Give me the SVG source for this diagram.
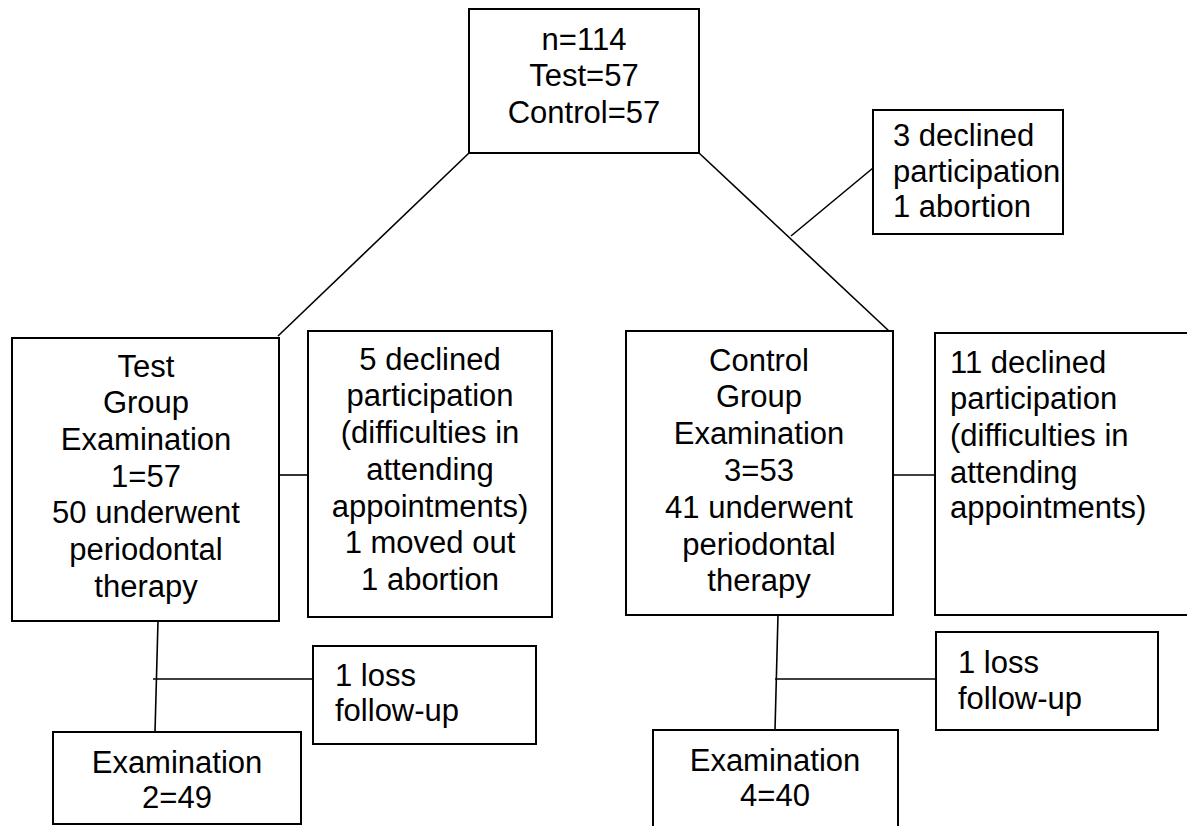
<svg xmlns="http://www.w3.org/2000/svg" width="1187" height="826" viewBox="0 0 1187 826">
<style>
.box{fill:#fff;stroke:#000;stroke-width:2}
.ln{fill:none;stroke:#000;stroke-width:1.6}
text{font-family:"Liberation Sans",Arial,sans-serif;font-size:31px;fill:#000}
.c{text-anchor:middle}
</style>
<rect width="1187" height="826" fill="#fff"/>
<g id="connectors">
<line class="ln" x1="469" y1="153" x2="278" y2="336"/>
<line class="ln" x1="699" y1="153" x2="889" y2="331"/>
<line class="ln" x1="873" y1="168" x2="791" y2="236"/>
<line class="ln" x1="279" y1="475" x2="308" y2="475"/>
<line class="ln" x1="891" y1="475" x2="935" y2="475"/>
<line class="ln" x1="158" y1="621" x2="155" y2="732"/>
<line class="ln" x1="153" y1="679" x2="313" y2="679"/>
<line class="ln" x1="778" y1="615" x2="775" y2="730"/>
<line class="ln" x1="775" y1="679" x2="936" y2="679"/>
</g>
<g id="n_total">
<rect class="box" x="469" y="9" width="230" height="144"/>
<text class="c" x="584" y="50">n=114</text>
<text class="c" x="584" y="86">Test=57</text>
<text class="c" x="584" y="123">Control=57</text>
</g>
<g id="n_excl_top">
<rect class="box" x="873" y="110" width="190" height="124"/>
<text x="893" y="146">3 declined</text>
<text x="893" y="182">participation</text>
<text x="893" y="217">1 abortion</text>
</g>
<g id="n_test">
<rect class="box" x="12" y="338" width="267" height="283"/>
<text class="c" x="146" y="377">Test</text>
<text class="c" x="146" y="413">Group</text>
<text class="c" x="146" y="450">Examination</text>
<text class="c" x="146" y="487">1=57</text>
<text class="c" x="146" y="523">50 underwent</text>
<text class="c" x="146" y="560">periodontal</text>
<text class="c" x="146" y="597">therapy</text>
</g>
<g id="n_test_excl">
<rect class="box" x="308" y="331" width="244" height="286"/>
<text class="c" x="430" y="370">5 declined</text>
<text class="c" x="430" y="406">participation</text>
<text class="c" x="430" y="443">(difficulties in</text>
<text class="c" x="430" y="480">attending</text>
<text class="c" x="430" y="517">appointments)</text>
<text class="c" x="430" y="553">1 moved out</text>
<text class="c" x="430" y="590">1 abortion</text>
</g>
<g id="n_control">
<rect class="box" x="626" y="331" width="267" height="284"/>
<text class="c" x="759" y="371">Control</text>
<text class="c" x="759" y="407">Group</text>
<text class="c" x="759" y="444">Examination</text>
<text class="c" x="759" y="481">3=53</text>
<text class="c" x="759" y="518">41 underwent</text>
<text class="c" x="759" y="555">periodontal</text>
<text class="c" x="759" y="591">therapy</text>
</g>
<g id="n_control_excl">
<rect class="box" x="935" y="333" width="270" height="282"/>
<text x="950" y="373">11 declined</text>
<text x="950" y="409">participation</text>
<text x="950" y="446">(difficulties in</text>
<text x="950" y="483">attending</text>
<text x="950" y="518">appointments)</text>
</g>
<g id="n_test_loss">
<rect class="box" x="313" y="646" width="223" height="98"/>
<text x="335" y="686">1 loss</text>
<text x="335" y="721">follow-up</text>
</g>
<g id="n_exam2">
<rect class="box" x="53" y="732" width="248" height="92"/>
<text class="c" x="177" y="773">Examination</text>
<text class="c" x="177" y="808">2=49</text>
</g>
<g id="n_control_loss">
<rect class="box" x="936" y="632" width="222" height="98"/>
<text x="958" y="673">1 loss</text>
<text x="958" y="709">follow-up</text>
</g>
<g id="n_exam4">
<rect class="box" x="653" y="730" width="245" height="110"/>
<text class="c" x="775" y="771">Examination</text>
<text class="c" x="775" y="806">4=40</text>
</g>
</svg>
